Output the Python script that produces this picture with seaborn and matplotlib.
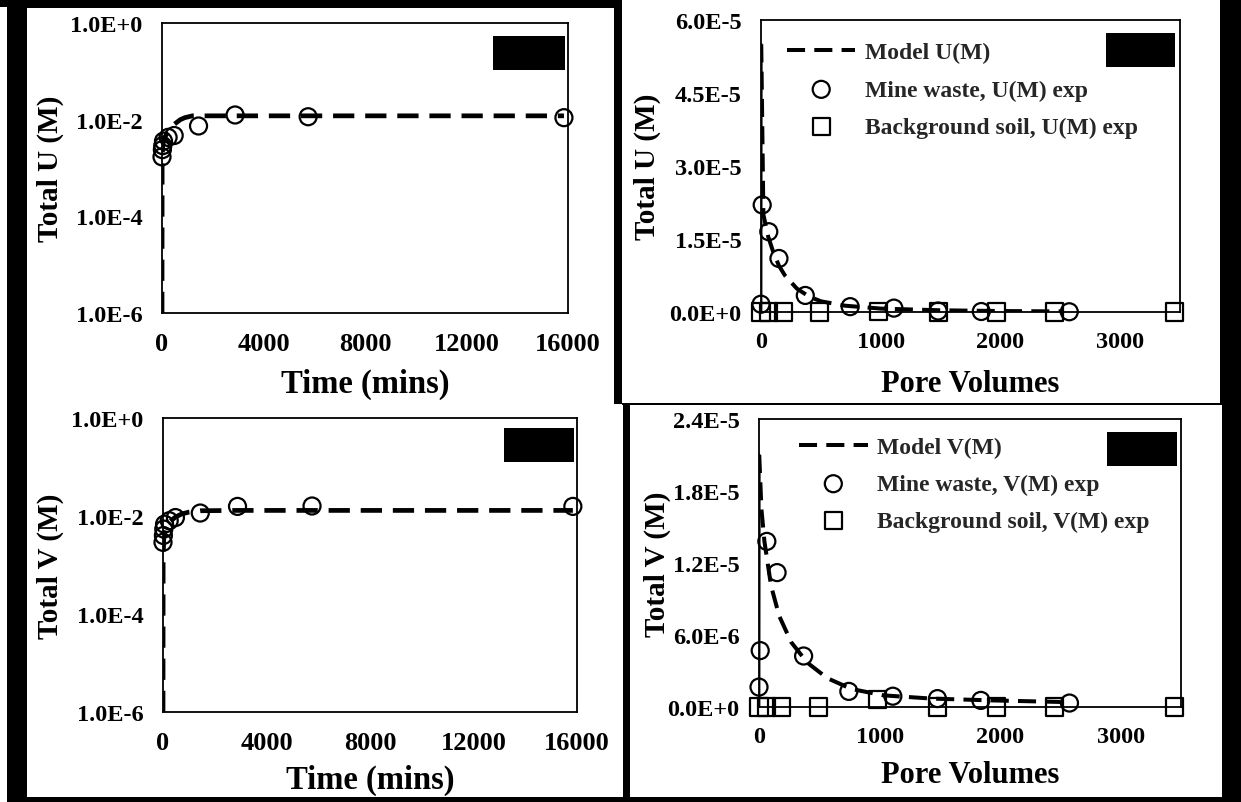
import numpy as np
import pandas as pd
import matplotlib
matplotlib.use("Agg")
import matplotlib.pyplot as plt
from matplotlib.patches import Rectangle
from matplotlib.ticker import FuncFormatter, NullLocator
import seaborn as sns

# ---- data ----
# batch tests: total U / V vs time (mins)
batch_time = [0, 15, 30, 60, 240, 480, 1440, 2880, 5760, 15840]
batch_u = [1.7e-3, 2.4e-3, 2.9e-3, 3.6e-3, 4.3e-3, 4.7e-3, 7.4e-3, 1.25e-2, 1.15e-2, 1.1e-2]
batch_v = [2.9e-3, 4.0e-3, 5.4e-3, 6.8e-3, 8.0e-3, 9.3e-3, 1.15e-2, 1.57e-2, 1.6e-2, 1.57e-2]

model_time_u = [0, 5, 30, 60, 120, 240, 480, 720, 900, 1200, 2000, 4000, 8000, 12000, 15840]
model_u_batch = [1e-6, 1.5e-3, 3.0e-3, 3.6e-3, 4.4e-3, 5.8e-3, 8.0e-3, 1.0e-2, 1.1e-2, 1.2e-2,
                 1.2e-2, 1.2e-2, 1.2e-2, 1.2e-2, 1.2e-2]
model_time_v = [0, 5, 30, 60, 120, 240, 480, 720, 1000, 1440, 2880, 5760, 10000, 15840]
model_v_batch = [1e-6, 1.5e-3, 3.5e-3, 4.5e-3, 5.8e-3, 7.5e-3, 9.5e-3, 1.1e-2, 1.2e-2, 1.28e-2,
                 1.3e-2, 1.3e-2, 1.3e-2, 1.3e-2]

# column tests: total U / V vs pore volumes
mine_pv = [0, 10, 65, 150, 370, 745, 1110, 1480, 1840, 2575]
mine_u = [1.6e-6, 2.2e-5, 1.65e-5, 1.1e-5, 3.4e-6, 1.1e-6, 8e-7, 2e-7, 1e-7, 5e-8]
mine_v = [1.66e-6, 4.7e-6, 1.38e-5, 1.12e-5, 4.25e-6, 1.3e-6, 9e-7, 7e-7, 5.5e-7, 3.3e-7]

soil_pv = [0, 60, 190, 490, 980, 1480, 1970, 2450, 3450]
soil_u = [0, 0, 0, 0, 1e-7, 0, 0, 0, 0]
soil_v = [0, 0, 0, 0, 6.5e-7, 0, 0, 0, 0]

model_pv_u = [0, 2, 20, 60, 100, 150, 200, 300, 400, 500, 700, 1000, 1500, 2000, 2500]
model_u_col = [0, 5.5e-5, 2.0e-5, 1.55e-5, 1.25e-5, 9.5e-6, 7.5e-6, 4.8e-6, 3.2e-6, 2.2e-6,
               1.3e-6, 7e-7, 3.5e-7, 2e-7, 1.2e-7]
model_pv_v = [0, 2, 20, 45, 100, 167, 267, 400, 567, 767, 1033, 1433, 1933, 2500]
model_v_col = [0, 2.1e-5, 1.65e-5, 1.38e-5, 1.01e-5, 7.6e-6, 5.4e-6, 3.7e-6, 2.4e-6, 1.5e-6,
               9.7e-7, 7e-7, 5.5e-7, 4.2e-7]

sns.set_theme(style="white")
plt.rcParams["font.family"] = ["Liberation Serif", "DejaVu Serif"]
plt.rcParams["font.weight"] = "bold"
plt.rcParams["axes.labelweight"] = "bold"

W, H = 1241, 803
fig = plt.figure(figsize=(W / 100, H / 100), dpi=100, facecolor="black")


def px_rect(x0, y0, x1, y1):
    return [x0 / W, 1 - y1 / H, (x1 - x0) / W, (y1 - y0) / H]


def fill_px(x0, y0, x1, y1, color, z):
    r = px_rect(x0, y0, x1, y1)
    fig.add_artist(Rectangle((r[0], r[1]), r[2], r[3], transform=fig.transFigure,
                             facecolor=color, edgecolor="none", zorder=z))


# white panel backgrounds
for box in [(0, 8, 7, 803), (27, 9, 614, 798), (27, 405, 623, 798),
            (622, 0, 1220, 404), (630, 406, 1222, 798)]:
    fill_px(*box, "white", 0)
fill_px(622, 404, 1220, 406, "black", 1)


def sci(v, pos):
    if v == 0:
        return "0.0E+0"
    e = int(np.floor(np.log10(abs(v)) + 1e-9))
    return f"{v / 10 ** e:.1f}E{e:+d}"


DASH = (0, (4.5, 2.3))
LW = 3.4
MS = 150


def style_axes(ax, xlabel, ylabel, xticks, yticks, xl_y, yl_x, xl_size, xt_size):
    for s in ax.spines.values():
        s.set_visible(True)
        s.set_color("black")
        s.set_linewidth(1.3)
    ax.set_facecolor("white")
    ax.set_xticks(xticks)
    ax.set_yticks(yticks)
    ax.yaxis.set_minor_locator(NullLocator())
    ax.yaxis.set_major_formatter(FuncFormatter(sci))
    ax.tick_params(length=0, labelsize=17.5, pad=14, colors="black")
    ax.tick_params(axis="x", labelsize=xt_size)
    for t in ax.get_xticklabels() + ax.get_yticklabels():
        t.set_fontweight("bold")
    ax.set_xlabel(xlabel, fontsize=xl_size, fontweight="bold", color="black")
    ax.set_ylabel(ylabel, fontsize=21, fontweight="bold", color="black")
    ax.xaxis.set_label_coords(0.5, xl_y)
    ax.yaxis.set_label_coords(yl_x, 0.5)
    ax.grid(False)


# ---- panel a: total U vs time ----
ax = fig.add_axes(px_rect(162, 24, 568, 314))
sns.lineplot(x=model_time_u, y=model_u_batch, ax=ax, color="black", lw=LW,
             linestyle=DASH, estimator=None, sort=False)
sns.scatterplot(x=batch_time, y=batch_u, ax=ax, marker="o", s=MS, facecolor="none",
                edgecolor="black", linewidth=1.6, clip_on=False, zorder=5)
ax.set_yscale("log")
ax.set_xlim(0, 16000)
ax.set_ylim(1e-6, 1)
style_axes(ax, "Time (mins)", "Total U (M)", [0, 4000, 8000, 12000, 16000],
           [1e-6, 1e-4, 1e-2, 1], -0.19, -0.241, 23.5, 19)
fill_px(493, 37, 565, 71, "black", 10)

# ---- panel c: total V vs time ----
ax = fig.add_axes(px_rect(163, 419, 577, 713))
sns.lineplot(x=model_time_v, y=model_v_batch, ax=ax, color="black", lw=LW,
             linestyle=DASH, estimator=None, sort=False)
sns.scatterplot(x=batch_time, y=batch_v, ax=ax, marker="o", s=MS, facecolor="none",
                edgecolor="black", linewidth=1.6, clip_on=False, zorder=5)
ax.set_yscale("log")
ax.set_xlim(0, 16000)
ax.set_ylim(1e-6, 1)
style_axes(ax, "Time (mins)", "Total V (M)", [0, 4000, 8000, 12000, 16000],
           [1e-6, 1e-4, 1e-2, 1], -0.175, -0.239, 23.5, 19)
fill_px(504, 429, 574, 463, "black", 10)


# ---- column panels ----
def column_panel(rect, mpv, mval, mwv, sv, sym, ymax, yticks, xl_y, yl_x, leg_xy, box):
    ax = fig.add_axes(px_rect(*rect))
    # steep rise at the inlet drawn as thin solid, the rest dashed
    sns.lineplot(x=mpv[:2], y=mval[:2], ax=ax, color="black", lw=2.0,
                 estimator=None, sort=False)
    sns.lineplot(x=mpv[1:], y=mval[1:], ax=ax, color="black", lw=LW * 0.85,
                 linestyle=DASH, estimator=None, sort=False, label=f"Model {sym}(M)")
    sns.scatterplot(x=mine_pv, y=mwv, ax=ax, marker="o", s=MS, facecolor="none",
                    edgecolor="black", linewidth=1.6, clip_on=False, zorder=5,
                    label=f"Mine waste, {sym}(M) exp")
    sns.scatterplot(x=soil_pv, y=sv, ax=ax, marker="s", s=MS, facecolor="none",
                    edgecolor="black", linewidth=1.6, clip_on=False, zorder=5,
                    label=f"Background soil, {sym}(M) exp")
    ax.set_xlim(0, 3500)
    ax.set_ylim(0, ymax)
    style_axes(ax, "Pore Volumes", f"Total {sym} (M)", [0, 1000, 2000, 3000],
               yticks, xl_y, yl_x, 22, 17.5)
    ax.legend(loc="upper left", bbox_to_anchor=leg_xy, frameon=False,
              borderpad=0, borderaxespad=0, handlelength=2.9, handletextpad=0.4,
              labelspacing=0.66, prop={"weight": "bold", "size": 17})
    fill_px(*box, "black", 10)
    return ax


column_panel((761, 21, 1180, 313), model_pv_u, model_u_col, mine_u, soil_u, "U", 6e-5,
             [0, 1.5e-5, 3e-5, 4.5e-5, 6e-5], -0.195, -0.239, (0.062, 0.925),
             (1106, 34, 1175, 68))
column_panel((759, 420, 1181, 708), model_pv_v, model_v_col, mine_v, soil_v, "V", 2.4e-5,
             [0, 6e-6, 1.2e-5, 1.8e-5, 2.4e-5], -0.185, -0.209, (0.095, 0.94),
             (1107, 433, 1177, 467))

fig.savefig("out.png", dpi=100, facecolor=fig.get_facecolor())
